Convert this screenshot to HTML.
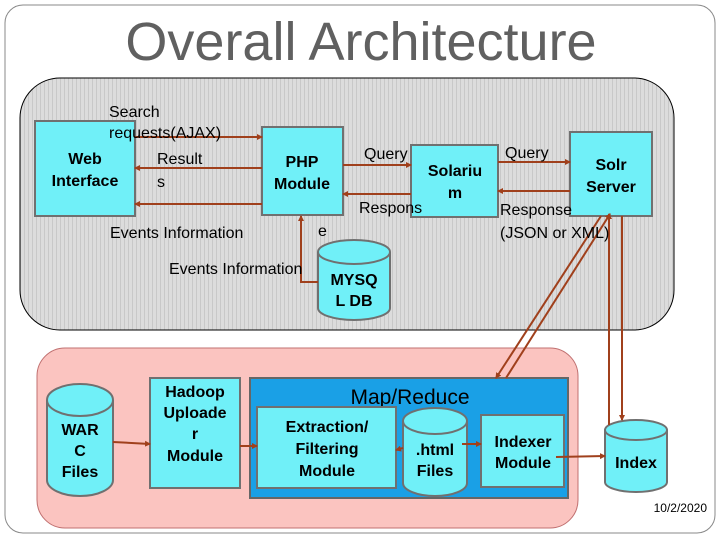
<!DOCTYPE html>
<html><head><meta charset="utf-8"><style>
html,body{margin:0;padding:0;background:#fff;}
svg{display:block;font-family:"Liberation Sans",Arial,sans-serif;}
.b{font-weight:bold;font-size:16px;fill:#000;text-anchor:middle;}
.n{font-size:16px;fill:#000;}
</style></head><body>
<svg width="720" height="540" viewBox="0 0 720 540" xmlns="http://www.w3.org/2000/svg">
<defs>
<pattern id="st" width="4" height="4" patternUnits="userSpaceOnUse">
<rect width="4" height="4" fill="#dcdcdc"/><rect width="1" height="4" fill="#c8c8c8"/>
</pattern>
<marker id="a" markerWidth="6" markerHeight="6" refX="5" refY="3" orient="auto" markerUnits="userSpaceOnUse"><path d="M0,0 L6,3 L0,6z" fill="#a0401c"/></marker>
</defs>
<rect x="5" y="5" width="710" height="528" rx="18" fill="#fff" stroke="#888" stroke-width="1"/>
<text x="361" y="60" font-size="54" fill="#606060" text-anchor="middle">Overall Architecture</text>
<rect x="20" y="78" width="654" height="252" rx="40" fill="url(#st)" stroke="#000" stroke-width="1"/>
<rect x="37" y="348" width="541" height="180" rx="28" fill="#fbc4c0" stroke="#c07070" stroke-width="1"/>
<rect x="250" y="378" width="318" height="120" fill="#1aa0e6" stroke="#666" stroke-width="2"/>
<text x="410" y="404" font-size="21" fill="#000" text-anchor="middle">Map/Reduce</text>
<g fill="#70f0f8" stroke="#707070" stroke-width="2">
<rect x="35" y="121" width="100" height="95"/>
<rect x="262" y="127" width="81" height="88"/>
<rect x="411" y="145" width="87" height="72"/>
<rect x="570" y="132" width="82" height="84"/>
<rect x="150" y="378" width="90" height="110"/>
<rect x="257" y="407" width="139" height="81"/>
<rect x="481" y="415" width="83" height="72"/>
<path d="M318,252 v56 a36,12 0 0 0 72,0 v-56"/><ellipse cx="354" cy="252" rx="36" ry="12"/>
<path d="M47,400 v80 a33,16 0 0 0 66,0 v-80"/><ellipse cx="80" cy="400" rx="33" ry="16"/>
<path d="M403,421 v62 a32,13 0 0 0 64,0 v-62"/><ellipse cx="435" cy="421" rx="32" ry="13"/>
<path d="M605,430 v52 a31,10 0 0 0 62,0 v-52"/><ellipse cx="636" cy="430" rx="31" ry="10"/>
</g>
<g stroke="#a0401c" stroke-width="2" fill="none" marker-end="url(#a)">
<line x1="135" y1="137" x2="262" y2="137"/>
<line x1="262" y1="168" x2="135" y2="168"/>
<line x1="262" y1="204" x2="135" y2="204"/>
<line x1="343" y1="165" x2="411" y2="165"/>
<line x1="411" y1="194" x2="343" y2="194"/>
<line x1="498" y1="162" x2="570" y2="162"/>
<line x1="570" y1="191" x2="498" y2="191"/>
<polyline points="318,282 301,282 301,216" />
<line x1="601" y1="216" x2="496" y2="378"/>
<line x1="506" y1="378" x2="610" y2="214"/>
<line x1="609" y1="425" x2="609" y2="214"/>
<line x1="622" y1="216" x2="622" y2="420"/>
<line x1="556" y1="457" x2="605" y2="456"/>
<line x1="113" y1="442" x2="150" y2="444"/>
<line x1="240" y1="446" x2="257" y2="446"/>
<line x1="403" y1="448" x2="396" y2="450"/>
<line x1="462" y1="444" x2="481" y2="444"/>
</g>
<text class="n" x="109" y="117">Search</text>
<text class="n" x="109" y="138">requests(AJAX)</text>
<text class="n" x="157" y="164">Result</text>
<text class="n" x="157" y="187">s</text>
<text class="n" x="110" y="238">Events Information</text>
<text class="n" x="169" y="274">Events Information</text>
<text class="n" x="318" y="236">e</text>
<text class="n" x="364" y="159">Query</text>
<text class="n" x="359" y="213">Respons</text>
<text class="n" x="505" y="158">Query</text>
<text class="n" x="500" y="215">Response</text>
<text class="n" x="500" y="238">(JSON or XML)</text>
<text class="b" x="85" y="164">Web</text><text class="b" x="85" y="186">Interface</text>
<text class="b" x="302" y="167">PHP</text><text class="b" x="302" y="189">Module</text>
<text class="b" x="455" y="176">Solariu</text><text class="b" x="455" y="198">m</text>
<text class="b" x="611" y="170">Solr</text><text class="b" x="611" y="192">Server</text>
<text class="b" x="354" y="285">MYSQ</text><text class="b" x="354" y="306">L DB</text>
<text class="b" x="80" y="435">WAR</text><text class="b" x="80" y="456">C</text><text class="b" x="80" y="477">Files</text>
<text class="b" x="195" y="397">Hadoop</text><text class="b" x="195" y="418">Uploade</text><text class="b" x="195" y="439">r</text><text class="b" x="195" y="461">Module</text>
<text class="b" x="327" y="432">Extraction/</text><text class="b" x="327" y="454">Filtering</text><text class="b" x="327" y="476">Module</text>
<text class="b" x="435" y="455">.html</text><text class="b" x="435" y="476">Files</text>
<text class="b" x="523" y="447">Indexer</text><text class="b" x="523" y="468">Module</text>
<text class="b" x="636" y="468">Index</text>
<text x="707" y="512" font-size="12" fill="#000" text-anchor="end">10/2/2020</text>
</svg>
</body></html>
